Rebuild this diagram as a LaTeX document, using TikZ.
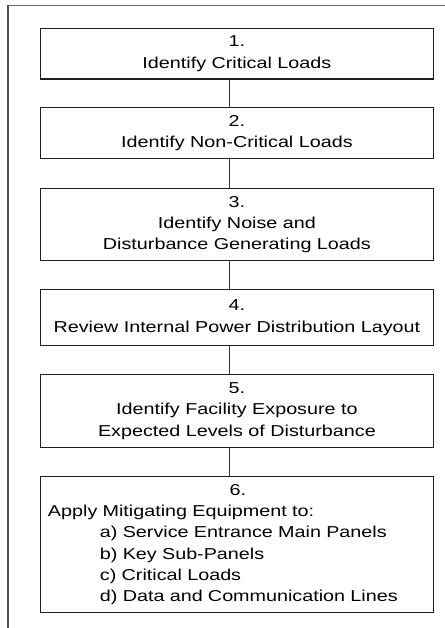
\documentclass[tikz,border=0pt]{standalone}
\usepackage{fontspec}
\setmainfont[FakeStretch=1.25]{Liberation Sans}
\begin{document}
\begin{tikzpicture}[x=1bp,y=-1bp,
  stepbox/.style={draw=black!88, line width=1.3bp, anchor=north,
    minimum width=392.8bp, inner xsep=0pt, inner ysep=0pt, align=center,
    font=\fontsize{15.8bp}{21.3bp}\selectfont},
  link/.style={draw=black!80, line width=1bp}]
\useasboundingbox (0,0) rectangle (445,628);
% outer frame
\draw[black!60, line width=1bp] (445,5.8) -- (7.5,5.8);
\draw[black!68, line width=2bp] (7.7,5.3) -- (7.7,628);
\coordinate (spine) at (229.4,0);
\node[stepbox, minimum height=50.3bp] (b1) at (236.9,28) {1.\\Identify Critical Loads};
\node[stepbox, minimum height=51bp] (b2) at (236.9,107) {2.\\Identify Non-Critical Loads};
\node[stepbox, minimum height=72bp] (b3) at (236.9,188) {3.\\Identify Noise and\\Disturbance Generating Loads};
\node[stepbox, minimum height=56bp] (b4) at (236.9,289) {4.\\Review Internal Power Distribution Layout};
\node[stepbox, minimum height=73bp] (b5) at (236.9,374) {5.\\Identify Facility Exposure to\\Expected Levels of Disturbance};
\node[stepbox, minimum height=135.7bp, text width=377.8bp, align=left] (b6) at (236.9,476)
  {\makebox[\linewidth][c]{\hspace*{2bp}6.}\\
   Apply Mitigating Equipment to:\\
   \hspace*{52bp}a) Service Entrance Main Panels\\
   \hspace*{52bp}b) Key Sub-Panels\\
   \hspace*{52bp}c) Critical Loads\\
   \hspace*{52bp}d) Data and Communication Lines};
\foreach \a/\b in {b1/b2,b2/b3,b3/b4,b4/b5,b5/b6}
  \draw[link] (\a.south -| spine) -- (\b.north -| spine);
\end{tikzpicture}
\end{document}
